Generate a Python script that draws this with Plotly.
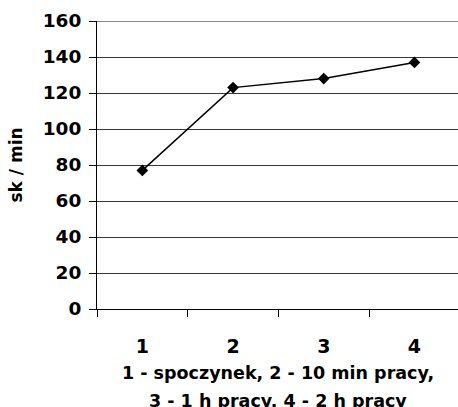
import plotly.graph_objects as go

# Heart rate by measurement stage
stages = [1, 2, 3, 4]
stage_labels = ["1", "2", "3", "4"]
heart_rate = [77, 123, 128, 137]
y_ticks = [0, 20, 40, 60, 80, 100, 120, 140, 160]
x_title_lines = ["1 - spoczynek, 2 - 10 min pracy,", "3 - 1 h pracy, 4 - 2 h pracy"]

FONT = "DejaVu Sans, sans-serif"

fig = go.Figure()
fig.add_trace(go.Scatter(
    x=stages, y=heart_rate, mode="lines+markers",
    line=dict(color="black", width=1.5),
    marker=dict(symbol="diamond", size=9, color="black"),
    showlegend=False, cliponaxis=False,
))

# two-line x-axis caption, with wider line spacing than a <br> gives
annotations = [
    dict(text=f"<b>{line}</b>", xref="paper", yref="paper", x=0.5, y=0,
         xanchor="center", yanchor="top", yshift=shift, showarrow=False,
         font=dict(size=17.5, family=FONT, color="black"))
    for line, shift in zip(x_title_lines, [-52, -80])
]

fig.update_layout(
    width=458, height=407,
    margin=dict(l=97, r=0, t=21, b=98),
    paper_bgcolor="white", plot_bgcolor="white",
    font=dict(family=FONT, color="black"),
    xaxis=dict(
        range=[0.5, 4.48],
        tickvals=stages, ticktext=stage_labels,
        ticks="", showgrid=False, zeroline=False,
        showline=True, linecolor="black", linewidth=1,
        tickfont=dict(size=19, family=FONT, weight="bold"),
        ticklabelstandoff=20,
        minor=dict(tickvals=[0.5, 1.5, 2.5, 3.5], ticks="outside",
                   ticklen=7, tickcolor="black", tickwidth=1, showgrid=False),
    ),
    yaxis=dict(
        range=[0, 160], tickvals=y_ticks,
        ticks="outside", ticklen=7, tickcolor="black",
        showgrid=True, gridcolor="#383838", gridwidth=1,
        zeroline=False, showline=True, linecolor="black", linewidth=1,
        tickfont=dict(size=18.5, family=FONT, weight="bold"),
        ticklabelstandoff=4,
        title=dict(text="<b>sk / min</b>", font=dict(size=17, family=FONT), standoff=15),
    ),
    annotations=annotations,
    shapes=[dict(type="line", xref="paper", yref="y", x0=0, x1=1, y0=160, y1=160,
                 line=dict(color="#888888", width=2), layer="above")],
)

fig.write_html("out.html")
